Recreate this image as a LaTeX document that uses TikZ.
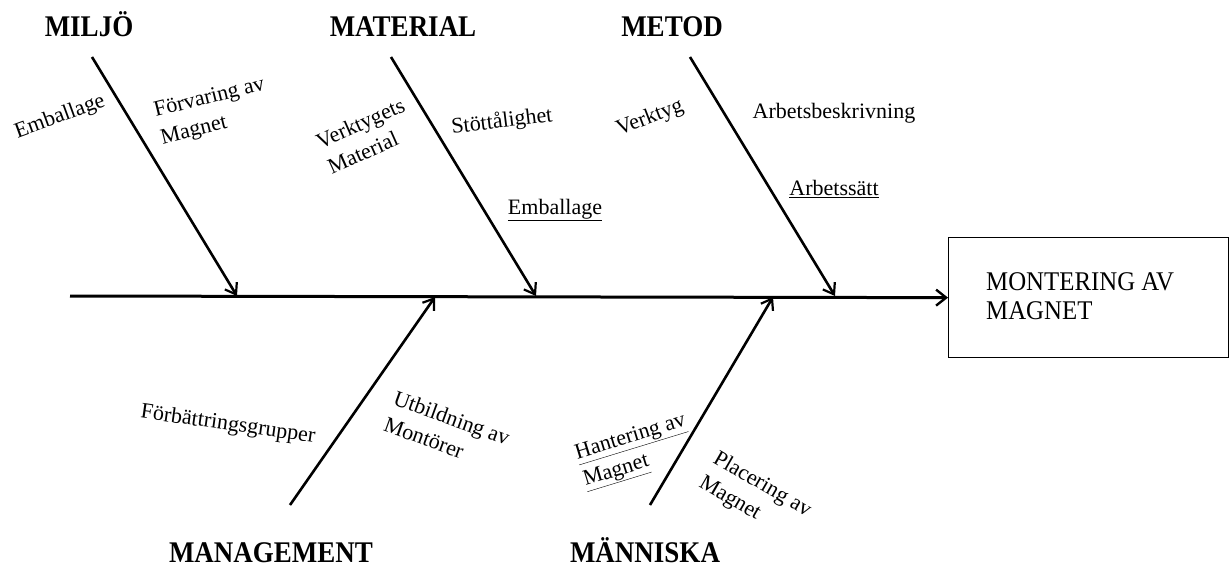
\documentclass[tikz,border=0pt]{standalone}
\usepackage{fontspec}
\setmainfont{Liberation Serif}
\usetikzlibrary{arrows.meta}
\begin{document}
\begin{tikzpicture}[x=1pt,y=-1pt,
  bone/.style={line width=2.6pt,-{Straight Barb[length=10pt,width=14pt,line width=2.2pt]}},
  spine/.style={line width=3pt,-{Straight Barb[length=10pt,width=16pt,line width=2.4pt]}},
  head/.style={font=\fontsize{30}{33}\selectfont\bfseries,inner sep=0pt,anchor=base,xscale=0.9},
  lbl/.style={font=\fontsize{22}{28}\selectfont,align=left,inner sep=0pt},
  efflbl/.style={font=\fontsize{27}{30}\selectfont,inner sep=0pt,anchor=base west,xscale=0.92},
  effbox/.style={draw,line width=1.3pt,minimum width=280pt,minimum height=120pt,inner sep=0pt},
]
\useasboundingbox (0,0) rectangle (1230,575);

% effect
\node[effbox,anchor=north west] (effect) at (948,237) {};
\node[efflbl] (eff1) at (986,290) {MONTERING AV};
\node[efflbl] (eff2) at (986,319) {MAGNET};

% spine
\coordinate (tail) at (70,296);
\draw[spine] (tail) -- (effect.west);

% heads
\node[head] (miljo) at (89,37) {MILJÖ};
\node[head] (material) at (403,37) {MATERIAL};
\node[head] (metod) at (672,37) {METOD};
\node[head] (management) at (271,562) {MANAGEMENT};
\node[head] (manniska) at (645,562) {MÄNNISKA};

% bone coordinates
\coordinate (miljoS) at (92,57);
\coordinate (miljoE) at (237,296);
\coordinate (materialS) at (391,57);
\coordinate (materialE) at (536,296);
\coordinate (metodS) at (690,57);
\coordinate (metodE) at (835,296);
\coordinate (managementS) at (290,505);
\coordinate (managementE) at (435,297);
\coordinate (manniskaS) at (650,505);
\coordinate (manniskaE) at (773,297);

\draw[bone] (miljoS) -- (miljoE);
\draw[bone] (materialS) -- (materialE);
\draw[bone] (metodS) -- (metodE);
\draw[bone] (managementS) -- (managementE);
\draw[bone] (manniskaS) -- (manniskaE);

% causes
\node[lbl,rotate=20] (c1) at (60,117) {Emballage};
\node[lbl,rotate=14] (c2) at (213,112) {Förvaring av\\Magnet};
\node[lbl,rotate=24] (c3) at (366,136) {Verktygets\\Material};
\node[lbl,rotate=7] (c4) at (502,122) {Stöttålighet};
\node[lbl] (c5) at (555,210) {\underline{Emballage}};
\node[lbl,rotate=21] (c6) at (650,118) {Verktyg};
\node[lbl] (c7) at (834,113) {Arbetsbeskrivning};
\node[lbl] (c8) at (834,189) {\underline{Arbetssätt}};
\node[lbl,rotate=-8] (c9) at (228,425) {Förbättringsgrupper};
\node[lbl,rotate=-20] (c10) at (447,431) {Utbildning av\\Montörer};
\node[lbl,rotate=17] (c11) at (635,452) {\underline{Hantering av}\\\underline{Magnet}};
\node[lbl,rotate=-30] (c12) at (755,497) {Placering av\\Magnet};
\end{tikzpicture}
\end{document}
